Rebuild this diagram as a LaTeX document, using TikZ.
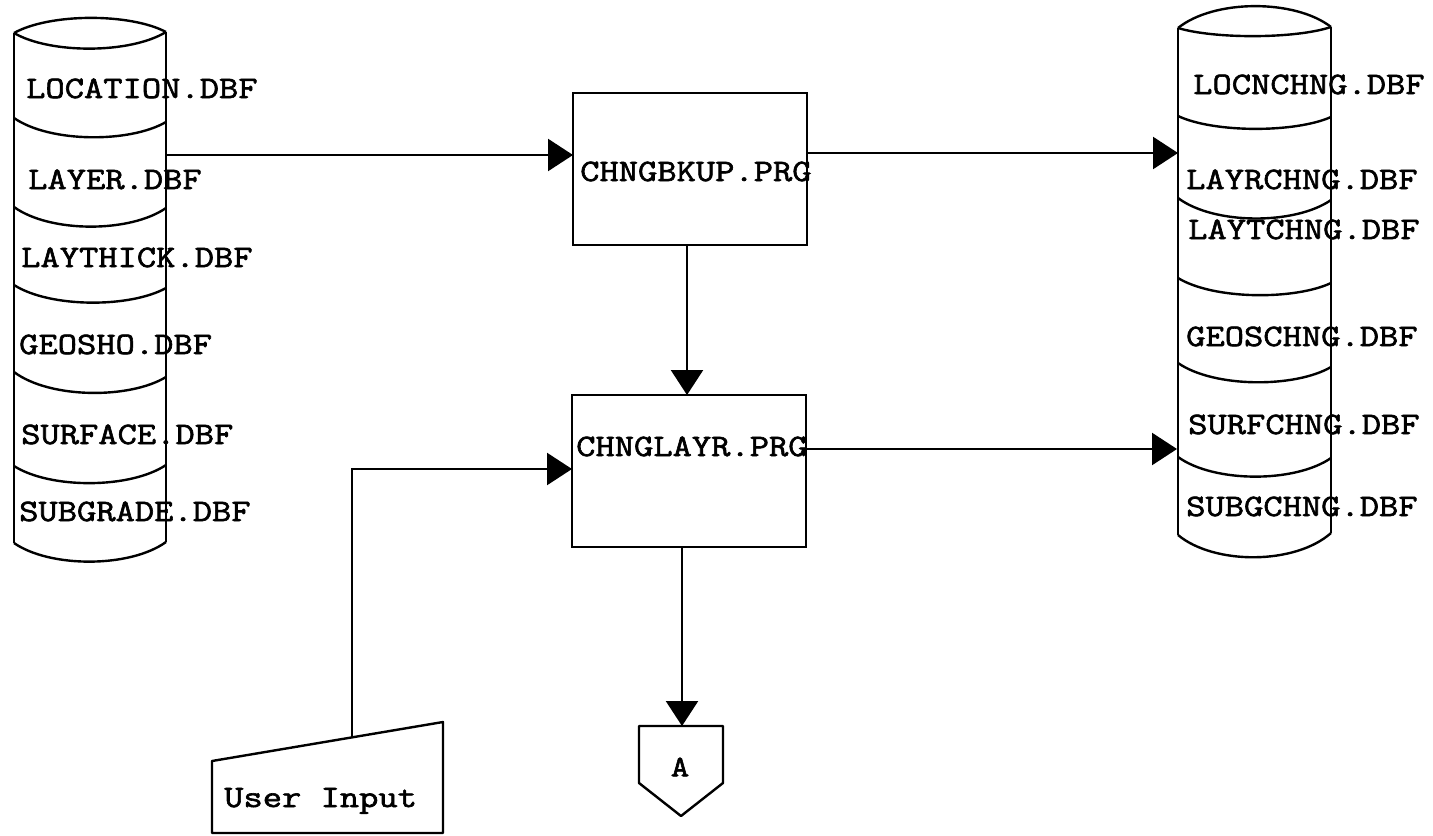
\documentclass[tikz,border=0pt]{standalone}
\usepackage{fontspec}
\newfontfamily\cour{Latin Modern Mono}[FakeStretch=1.2, RawFeature={embolden=2}]
\usetikzlibrary{arrows.meta}
\begin{document}
\begin{tikzpicture}[x=0.5pt,y=-0.5pt, line width=1.2pt,
  box/.style={draw, minimum width=117pt, minimum height=76pt, inner sep=0pt},
  lbl/.style={font=\cour\fontsize{15.6}{18}\selectfont, inner sep=0pt, anchor=base west},
  arr/.style={-{Triangle[length=12.5pt,width=16pt]}},
  shp/.style={draw, line join=round}]
\useasboundingbox[fill=white] (0,0) rectangle (1433,835);

% ---------- left database cylinder ----------
\draw[shp] (14,33) .. controls (50,13) and (130,13) .. (166,32);
\draw[shp] (14,33) .. controls (50,54) and (130,54) .. (166,32);
\draw[shp] (14,33) -- (14,543);
\draw[shp] (166,32) -- (166,542);
\draw[shp] (14,118) .. controls (50,143) and (130,143) .. (166,122);
\draw[shp] (14,207) .. controls (50,233) and (130,233) .. (166,208);
\draw[shp] (14,285) .. controls (50,308) and (130,308) .. (166,288);
\draw[shp] (14,372) .. controls (50,399) and (130,399) .. (166,377);
\draw[shp] (14,466) .. controls (50,489) and (130,489) .. (166,465);
\draw[shp] (14,543) .. controls (50,568) and (130,568) .. (166,542);
\node[lbl] (t1) at (25,98) {LOCATION.DBF};
\node[lbl] (t2) at (27,189) {LAYER.DBF};
\node[lbl] (t3) at (20,267) {LAYTHICK.DBF};
\node[lbl] (t4) at (18,354) {GEOSHO.DBF};
\node[lbl] (t5) at (20,444) {SURFACE.DBF};
\node[lbl] (t6) at (18,521) {SUBGRADE.DBF};

% ---------- right database cylinder ----------
\draw[shp] (1178,28) .. controls (1214,-1) and (1295,-1) .. (1331,27);
\draw[shp] (1178,28) .. controls (1214,39) and (1295,39) .. (1331,27);
\draw[shp] (1178,28) -- (1178,535);
\draw[shp] (1331,27) -- (1331,533);
\draw[shp] (1178,116) .. controls (1214,133) and (1295,133) .. (1331,117);
\draw[shp] (1178,198) .. controls (1214,225) and (1295,225) .. (1331,200);
\draw[shp] (1178,278) .. controls (1214,300) and (1295,300) .. (1331,283);
\draw[shp] (1178,363) .. controls (1214,388) and (1295,388) .. (1331,367);
\draw[shp] (1178,457) .. controls (1214,483) and (1295,483) .. (1331,458);
\draw[shp] (1178,535) .. controls (1214,565) and (1295,565) .. (1331,533);
\node[lbl] (r1) at (1192,94) {LOCNCHNG.DBF};
\node[lbl] (r2) at (1185,189) {LAYRCHNG.DBF};
\node[lbl] (r3) at (1187,239) {LAYTCHNG.DBF};
\node[lbl] (r4) at (1185,346) {GEOSCHNG.DBF};
\node[lbl] (r5) at (1187,434) {SURFCHNG.DBF};
\node[lbl] (r6) at (1185,516) {SUBGCHNG.DBF};

% ---------- program boxes ----------
\node[box] (bkup) at (690,169) {};
\node[lbl] (bkuptxt) at (579,181) {CHNGBKUP.PRG};
\node[box] (layr) at (689,471) {};
\node[lbl] (layrtxt) at (575,456) {CHNGLAYR.PRG};

% ---------- user input (manual input shape) ----------
\draw[shp] (212,761) -- (443,722) -- (443,833) -- (212,833) -- cycle;
\node[lbl] (ui) at (223,807) {User Input};
\coordinate (uitop) at (352,737);

% ---------- off-page connector A ----------
\draw[shp] (639,726) -- (723,726) -- (723,783) -- (681,816) -- (639,783) -- cycle;
\node[font=\cour\bfseries\fontsize{15}{18}\selectfont, inner sep=0pt] (A) at (680,767) {A};

% ---------- connection points ----------
\coordinate (ldbout) at (166,155);
\coordinate (bkupin) at (573,155);
\coordinate (bkupout) at (807,153);
\coordinate (rdbin1) at (1178,153);
\coordinate (bkupbot) at (687,245);
\coordinate (layrtop) at (687,395);
\coordinate (layrout) at (806,449);
\coordinate (rdbin2) at (1177,449);
\coordinate (uicorner) at (352,469);
\coordinate (layrin) at (572,469);
\coordinate (layrbot) at (682,547);
\coordinate (Atop) at (682,726);

% ---------- connectors ----------
\draw[arr] (ldbout) -- (bkupin);
\draw[arr] (bkupout) -- (rdbin1);
\draw[arr] (bkupbot) -- (layrtop);
\draw[arr] (layrout) -- (rdbin2);
\draw[arr] (uitop) -- (uicorner) -- (layrin);
\draw[arr] (layrbot) -- (Atop);
\end{tikzpicture}
\end{document}
